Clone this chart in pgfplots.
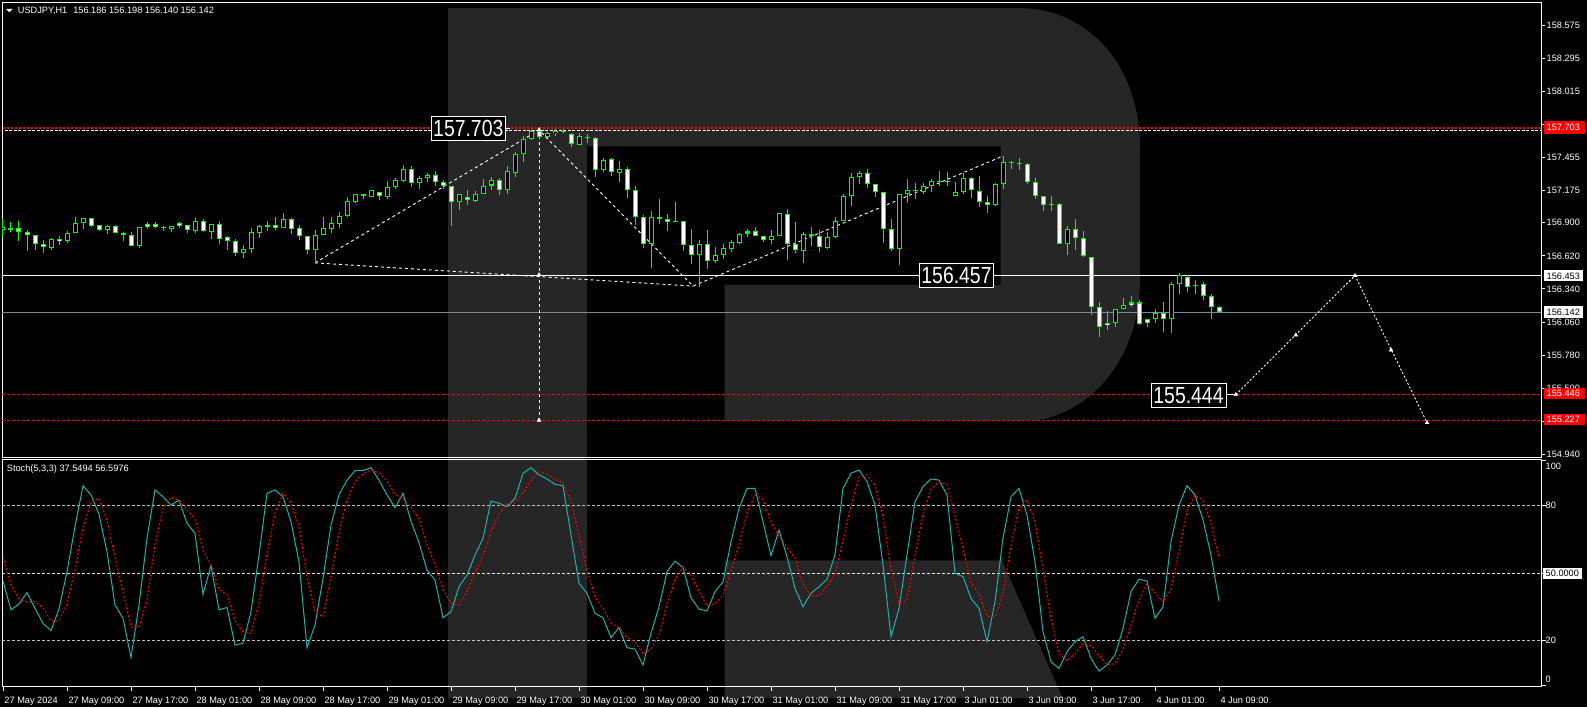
\documentclass[border=0pt]{standalone}
\usepackage{pgfplots}
\pgfplotsset{compat=1.18}
\usepackage{pgfplotstable}
\usepackage{graphicx}
\usepackage{fontspec}
\setmainfont{Liberation Sans}
\definecolor{cg}{RGB}{0,255,0}
\definecolor{kcol}{RGB}{32,178,170}
\definecolor{wm}{RGB}{38,38,38}
\definecolor{bidc}{RGB}{119,136,153}
\definecolor{lvl}{RGB}{192,192,192}
\newcommand\lf{\fontsize{9.2}{10}\selectfont}
\newcommand\bigf{\fontsize{19.4}{20}\selectfont}

\pgfplotstableread{
i o h l c
0 156.842 156.930 156.777 156.862
6 156.684 156.772 156.670 156.763
8 156.749 156.828 156.732 156.811
9 156.811 156.947 156.811 156.896
10 156.896 156.944 156.851 156.938
13 156.842 156.879 156.805 156.870
17 156.707 156.868 156.690 156.862
21 156.851 156.870 156.825 156.870
24 156.834 156.938 156.817 156.913
26 156.825 156.887 156.766 156.887
30 156.641 156.712 156.605 156.675
31 156.675 156.854 156.647 156.820
32 156.817 156.879 156.774 156.870
33 156.868 156.913 156.834 156.879
35 156.859 156.981 156.859 156.930
39 156.667 156.839 156.562 156.794
40 156.800 156.947 156.800 156.854
41 156.851 156.947 156.817 156.896
42 156.893 156.989 156.856 156.955
43 156.955 157.116 156.947 157.082
44 157.077 157.142 157.068 157.142
46 157.122 157.176 157.122 157.176
48 157.116 157.252 157.105 157.201
49 157.201 157.278 157.190 157.263
50 157.254 157.395 157.243 157.361
52 157.234 157.294 157.189 157.277
53 157.277 157.322 157.246 157.305
57 157.079 157.147 157.008 157.141
59 157.087 157.169 157.079 157.149
60 157.149 157.268 157.141 157.217
61 157.217 157.288 157.178 157.260
63 157.181 157.381 157.147 157.336
64 157.327 157.497 157.291 157.483
65 157.480 157.636 157.418 157.613
66 157.610 157.695 157.599 157.675
68 157.624 157.672 157.619 157.658
69 157.658 157.698 157.636 157.678
72 157.562 157.658 157.562 157.633
75 157.350 157.449 157.333 157.432
77 157.325 157.424 157.248 157.361
81 156.725 157.000 156.519 156.954
87 156.629 156.751 156.358 156.717
89 156.581 156.694 156.556 156.624
90 156.624 156.717 156.598 156.686
91 156.677 156.751 156.655 156.734
92 156.731 156.816 156.725 156.810
93 156.810 156.844 156.782 156.827
96 156.751 156.836 156.725 156.793
97 156.793 156.980 156.785 156.980
100 156.663 156.824 156.561 156.802
103 156.689 156.824 156.680 156.782
104 156.782 156.946 156.773 156.918
105 156.920 157.149 156.912 157.132
106 157.132 157.322 157.042 157.285
107 157.285 157.339 157.231 157.319
112 156.680 157.149 156.544 157.149
113 157.149 157.271 157.065 157.178
115 157.166 157.237 157.149 157.209
116 157.209 157.271 157.158 157.254
118 157.246 157.330 157.212 157.254
119 157.124 157.246 157.124 157.166
120 157.164 157.322 157.149 157.279
124 157.048 157.237 157.039 157.226
125 157.226 157.466 157.186 157.415
131 157.048 157.132 157.005 157.056
133 156.725 156.870 156.629 156.844
139 156.055 156.166 156.021 156.166
140 156.166 156.259 156.166 156.208
144 156.089 156.166 156.053 156.140
146 156.081 156.395 155.968 156.378
147 156.378 156.471 156.301 156.454
}\bull

\pgfplotstableread{
i o h l c
1 156.856 156.907 156.820 156.842
2 156.854 156.916 156.746 156.820
3 156.820 156.839 156.664 156.794
4 156.794 156.794 156.670 156.718
5 156.718 156.755 156.647 156.692
7 156.763 156.786 156.715 156.743
11 156.938 156.940 156.868 156.876
12 156.879 156.879 156.831 156.842
14 156.870 156.879 156.811 156.811
15 156.811 156.820 156.749 156.800
16 156.800 156.820 156.707 156.707
18 156.887 156.904 156.851 156.862
19 156.887 156.904 156.854 156.862
20 156.867 156.870 156.834 156.858
22 156.896 156.904 156.859 156.870
23 156.879 156.879 156.811 156.837
25 156.913 156.930 156.820 156.828
27 156.887 156.913 156.723 156.766
28 156.777 156.786 156.673 156.743
29 156.743 156.760 156.616 156.641
34 156.879 156.947 156.842 156.859
36 156.930 156.938 156.808 156.851
37 156.854 156.879 156.757 156.786
38 156.786 156.786 156.639 156.667
45 157.142 157.142 157.099 157.125
47 157.159 157.159 157.094 157.125
51 157.361 157.381 157.206 157.234
54 157.302 157.339 157.214 157.243
55 157.243 157.260 157.189 157.209
56 157.209 157.217 156.872 157.079
58 157.116 157.178 157.051 157.090
62 157.260 157.279 157.135 157.181
67 157.675 157.703 157.619 157.624
70 157.678 157.692 157.658 157.669
71 157.650 157.658 157.545 157.565
73 157.624 157.650 157.579 157.616
74 157.616 157.624 157.291 157.350
76 157.438 157.446 157.296 157.328
78 157.361 157.370 157.113 157.175
79 157.175 157.209 156.881 156.954
80 156.954 156.966 156.691 156.725
82 156.954 157.101 156.889 156.937
83 156.937 156.974 156.833 156.904
84 156.912 157.076 156.904 156.904
85 156.912 156.912 156.663 156.714
86 156.714 156.847 156.553 156.629
88 156.717 156.838 156.513 156.581
94 156.827 156.861 156.793 156.793
95 156.793 156.793 156.740 156.751
98 156.977 157.017 156.587 156.725
99 156.725 156.904 156.641 156.666
101 156.802 156.861 156.706 156.793
102 156.793 156.836 156.655 156.694
108 157.319 157.356 157.200 157.226
109 157.226 157.226 157.116 157.158
110 157.158 157.158 156.731 156.844
111 156.844 156.937 156.663 156.680
114 157.178 157.237 157.099 157.169
117 157.254 157.339 157.212 157.246
121 157.279 157.288 157.107 157.175
122 157.172 157.296 157.036 157.073
123 157.073 157.132 156.980 157.048
126 157.415 157.426 157.356 157.407
127 157.407 157.449 157.347 157.398
128 157.398 157.407 157.226 157.243
129 157.243 157.277 157.099 157.124
130 157.124 157.124 156.997 157.048
132 157.056 157.065 156.725 156.725
134 156.844 156.929 156.672 156.768
135 156.768 156.827 156.612 156.621
136 156.607 156.607 156.118 156.183
137 156.188 156.228 155.934 156.019
138 156.055 156.149 155.996 156.030
141 156.225 156.276 156.191 156.205
142 156.225 156.242 156.036 156.044
143 156.089 156.089 156.019 156.047
145 156.140 156.225 155.976 156.081
148 156.443 156.454 156.310 156.358
149 156.373 156.412 156.301 156.364
150 156.378 156.403 156.242 156.284
151 156.284 156.293 156.081 156.183
152 156.186 156.198 156.140 156.142
}\bear

\pgfplotstableread{
i k d
0 46.4 57.2
1 33.6 44.7
2 36.2 38.7
3 41.3 37.0
4 34.3 37.3
5 27.6 34.4
6 24.4 28.8
7 34.0 28.7
8 50.6 36.3
9 70.6 51.7
10 88.8 70.0
11 84.7 81.4
12 76.1 83.2
13 59.5 73.4
14 35.8 57.1
15 29.9 41.7
16 12.4 26.0
17 35.8 26.0
18 65.4 37.9
19 86.9 62.7
20 83.9 78.7
21 80.2 83.7
22 82.4 82.2
23 72.1 78.2
24 67.6 74.0
25 40.5 60.1
26 53.3 53.8
27 33.6 42.5
28 34.7 40.5
29 18.0 28.8
30 18.7 23.8
31 32.8 23.2
32 58.0 36.5
33 85.4 58.7
34 86.9 76.8
35 83.9 85.4
36 72.8 81.2
37 55.0 70.6
38 16.8 48.2
39 26.9 32.9
40 47.6 30.4
41 71.3 48.6
42 84.7 67.9
43 91.3 82.4
44 95.5 90.5
45 95.5 94.1
46 96.8 95.9
47 91.3 94.5
48 84.7 90.9
49 79.0 85.0
50 85.4 83.0
51 73.0 79.1
52 63.5 74.0
53 51.3 62.6
54 46.9 53.9
55 30.1 42.8
56 32.8 36.6
57 43.9 35.6
58 49.1 41.9
59 58.0 50.3
60 65.4 57.5
61 82.0 68.5
62 81.0 76.1
63 79.5 80.8
64 83.2 81.2
65 94.3 85.7
66 96.8 91.4
67 93.6 94.9
68 91.8 94.1
69 89.4 91.6
70 88.8 90.0
71 66.9 81.7
72 45.4 67.0
73 41.0 51.1
74 32.1 39.5
75 30.1 34.4
76 21.3 27.8
77 25.7 25.7
78 16.8 21.3
79 16.2 19.6
80 9.1 14.0
81 23.2 16.2
82 35.0 22.4
83 50.6 36.3
84 55.3 47.0
85 52.4 52.8
86 39.0 48.9
87 34.0 41.8
88 33.1 35.4
89 41.7 36.3
90 46.1 40.3
91 63.9 50.6
92 78.7 62.9
93 87.6 76.7
94 87.6 84.6
95 72.8 82.7
96 57.7 72.7
97 69.1 66.5
98 57.3 61.4
99 43.2 56.5
100 35.0 45.2
101 41.0 39.7
102 43.9 40.0
103 47.2 44.0
104 58.0 49.7
105 87.6 64.3
106 94.3 80.0
107 95.8 92.6
108 90.6 93.6
109 80.2 88.9
110 53.6 74.8
111 21.7 51.8
112 34.3 36.5
113 58.0 38.0
114 81.7 58.0
115 88.4 76.0
116 91.8 87.3
117 91.3 90.5
118 84.7 89.3
119 49.9 75.3
120 48.4 61.0
121 38.7 45.7
122 34.3 40.5
123 19.5 30.8
124 37.3 30.4
125 65.4 40.7
126 83.9 62.2
127 87.6 79.0
128 75.8 82.4
129 55.0 72.8
130 23.9 51.6
131 10.6 29.8
132 7.6 14.0
133 15.0 11.1
134 19.5 14.0
135 21.7 18.7
136 12.1 17.8
137 6.4 13.4
138 9.1 9.2
139 13.6 9.7
140 25.4 16.0
141 41.7 26.9
142 47.3 38.1
143 46.4 45.1
144 29.9 41.2
145 35.0 37.1
146 63.9 42.9
147 80.2 59.7
148 88.8 77.6
149 84.7 84.6
150 73.6 82.4
151 58.0 72.1
152 37.5 56.6
}\stoch

\begin{document}
\begin{tikzpicture}[x=1pt,y=1pt]
\fill[black] (0,0) rectangle (1587,707);
% watermark
\fill[wm] (448.4,9) rectangle (586.6,698.9);
\fill[wm] (586.6,698.9) -- (1021,698.9) .. controls (1080,698.9) and (1140,650) .. (1140,558) -- (1140,427) .. controls (1140,345) and (1085,285.5) .. (1021,285.5) -- (724.7,285.5) -- (724.7,422) -- (1000.5,422) -- (1000.5,560.5) -- (586.6,560.5) -- cycle;
\fill[wm] (724.7,146.6) -- (1002,146.6) -- (1062.6,9) -- (724.7,9) -- cycle;

\begin{axis}[
  at={(2pt,250pt)}, anchor=south west, scale only axis, width=1539pt, height=455pt,
  xmin=-0.125, xmax=192.25, ymin=154.915, ymax=158.773,
  axis line style={white, line width=0.9pt},
  xtick=\empty,
  ytick={158.575,158.295,158.015,157.735,157.455,157.175,156.900,156.620,156.340,156.060,155.780,155.500,155.220,154.940},
  yticklabels={}, ytick pos=right, tick align=outside, major tick length=4pt,
  tick style={white, line width=0.9pt},
  clip=true,
]
% levels
\addplot[red, line width=2pt, dash pattern=on 2pt off 2pt] coordinates {(-2,157.703) (195,157.703)};
\addplot[white, line width=0.9pt, dash pattern=on 3pt off 1.5pt] coordinates {(-2,157.685) (195,157.685)};
\addplot[white, line width=0.9pt] coordinates {(-2,156.453) (195,156.453)};
\addplot[bidc, line width=0.9pt] coordinates {(-2,156.142) (195,156.142)};
\addplot[red, line width=0.9pt, dash pattern=on 3pt off 2pt] coordinates {(-2,155.446) (195,155.446)};
\addplot[red, line width=0.9pt, dash pattern=on 3pt off 2pt] coordinates {(-2,155.227) (195,155.227)};
% zigzag
\addplot[white, line width=0.9pt, dash pattern=on 3pt off 3pt] coordinates {(39,156.561) (67,157.687) (86.25,156.364) (124.75,157.460)};
\addplot[white, line width=0.9pt, dash pattern=on 3pt off 3pt] coordinates {(39,156.561) (86.25,156.364)};
\addplot[white, line width=0.9pt, dash pattern=on 3pt off 3pt] coordinates {(67,157.687) (67,155.227)};
% projection
\addplot[white, line width=0.9pt, dash pattern=on 2pt off 2pt] coordinates {(154.1,155.444) (169,156.453) (178,155.206)};
\addplot[only marks, mark=triangle*, mark size=2.2pt, white] coordinates {(67,157.690) (67,156.460) (67,155.227) (154.1,155.444) (161.6,155.949) (169,156.453) (173.5,155.822) (178,155.206)};
% candles: wicks
\addplot[draw=none, mark=none, error bars/.cd, y dir=plus, y explicit, error mark=none, error bar style={draw=cg, line width=1pt}] table[x=i, y=l, y error plus expr={\thisrow{h}-\thisrow{l}}] {\bull};
\addplot[draw=none, mark=none, error bars/.cd, y dir=plus, y explicit, error mark=none, error bar style={draw=cg, line width=1pt}] table[x=i, y=l, y error plus expr={\thisrow{h}-\thisrow{l}}] {\bear};
% bodies outline
\addplot[draw=none, mark=none, error bars/.cd, y dir=plus, y explicit, error mark=none, error bar style={draw=cg, line width=5pt}] table[x=i, y=o, y error plus expr={\thisrow{c}-\thisrow{o}}] {\bull};
\addplot[draw=none, mark=none, error bars/.cd, y dir=plus, y explicit, error mark=none, error bar style={draw=cg, line width=5pt}] table[x=i, y=c, y error plus expr={\thisrow{o}-\thisrow{c}}] {\bear};
% bodies fill
\addplot[draw=none, mark=none, error bars/.cd, y dir=plus, y explicit, error mark=none, error bar style={draw=black, line width=3pt}] table[x=i, y expr={\thisrow{o}+0.0085}, y error plus expr={max(0,\thisrow{c}-\thisrow{o}-0.017)}] {\bull};
\addplot[draw=none, mark=none, error bars/.cd, y dir=plus, y explicit, error mark=none, error bar style={draw=white, line width=3pt}] table[x=i, y expr={\thisrow{c}+0.0085}, y error plus expr={max(0,\thisrow{o}-\thisrow{c}-0.017)}] {\bear};
\end{axis}

\begin{axis}[
  at={(2pt,21pt)}, anchor=south west, scale only axis, width=1539pt, height=227pt,
  xmin=-0.125, xmax=192.25, ymin=-0.22, ymax=100.67,
  axis line style={white, line width=0.9pt},
  xtick={0,8,...,152}, xtick pos=left,
  xticklabels={27 May 2024,27 May 09:00,27 May 17:00,28 May 01:00,28 May 09:00,28 May 17:00,29 May 01:00,29 May 09:00,29 May 17:00,30 May 01:00,30 May 09:00,30 May 17:00,31 May 01:00,31 May 09:00,31 May 17:00,3 Jun 01:00,3 Jun 09:00,3 Jun 17:00,4 Jun 01:00,4 Jun 09:00},
  xticklabel style={anchor=base west, inner sep=0pt, yshift=-13.3pt, xshift=1.3pt, text=white, font=\lf},
  ytick={0,20,50,80,100}, ytick pos=right, yticklabels={},
  tick align=outside, major tick length=4.5pt,
  tick style={white, line width=0.9pt},
  clip=true,
]
\addplot[lvl, line width=0.9pt, dash pattern=on 3pt off 2pt] coordinates {(-2,80) (195,80)};
\addplot[white!90!black, line width=0.9pt, dash pattern=on 3pt off 2pt] coordinates {(-2,50) (195,50)};
\addplot[lvl, line width=0.9pt, dash pattern=on 3pt off 2pt] coordinates {(-2,20) (195,20)};
\addplot[kcol, line width=1pt] table[x=i, y=k] {\stoch};
\addplot[red, line width=1pt, dash pattern=on 2pt off 2pt] table[x=i, y=d] {\stoch};
\end{axis}

% title
\fill[white] (6,698) -- (12.7,698) -- (9.35,694.7) -- cycle;
\node[anchor=base west, inner sep=0, text=white, font=\lf] at (17.7,693) {USDJPY,H1\hspace{6pt}156.186 156.198 156.140 156.142};
\node[anchor=base west, inner sep=0, text=white, font=\lf] at (6.7,235.5) {Stoch(5,3,3) 37.5494 56.5976};

% right price labels
\foreach \py/\t in {25.3/158.575, 58.3/158.295, 91.3/158.015, 157.4/157.455, 190.4/157.175, 222.8/156.900, 255.9/156.620, 288.9/156.340, 321.9/156.060, 354.9/155.780, 387.9/155.500, 454.0/154.940}
  \node[anchor=west, inner sep=0, text=white, font=\lf] at (1546.5,707-\py) {\t};
\fill[red] (1544,573) rectangle (1585,585.5);
\node[anchor=west, inner sep=0, text=white, font=\lf] at (1546.5,579.2) {157.703};
\fill[white] (1544,425.5) rectangle (1583,436.7);
\node[anchor=west, inner sep=0, text=black, font=\lf] at (1546.5,431) {156.453};
\fill[white] (1544,389) rectangle (1583,400.5);
\node[anchor=west, inner sep=0, text=black, font=\lf] at (1546.5,394.7) {156.142};
\fill[red] (1544,307.5) rectangle (1585,319.3);
\node[anchor=west, inner sep=0, text=white, font=\lf] at (1546.5,313.5) {155.446};
\fill[red] (1544,281.7) rectangle (1585,293.3);
\node[anchor=west, inner sep=0, text=white, font=\lf] at (1546.5,287.6) {155.227};

% stoch labels
\node[anchor=west, inner sep=0, text=white, font=\lf] at (1545.5,707-466.7) {100};
\node[anchor=west, inner sep=0, text=white, font=\lf] at (1545.5,707-505.7) {80};
\fill[white] (1543,128.5) rectangle (1581.6,139);
\node[anchor=west, inner sep=0, text=black, font=\lf] at (1545.5,707-573.3) {50.0000};
\node[anchor=west, inner sep=0, text=white, font=\lf] at (1545.5,707-640.3) {20};
\node[anchor=west, inner sep=0, text=white, font=\lf] at (1545.5,707-679.7) {0};

% big price labels
\node[draw=white, line width=1pt, fill=black, text=white, inner sep=0, minimum width=74.5pt, minimum height=24.5pt, font=\bigf] at (468.3,578.7) {\scalebox{1}[1.2]{157.703}};
\draw[white, line width=1pt] (505.7,578.5) -- (510,578.5);
\node[draw=white, line width=1pt, fill=black, text=white, inner sep=0, minimum width=74.4pt, minimum height=24pt, font=\bigf] at (956.5,431.7) {\scalebox{1}[1.2]{156.457}};
\draw[white, line width=1pt] (993.7,431) -- (1003.7,431);
\node[draw=white, line width=1pt, fill=black, text=white, inner sep=0, minimum width=75pt, minimum height=24pt, font=\bigf] at (1188.5,311.7) {\scalebox{1}[1.2]{155.444}};
\draw[white, line width=1pt] (1226,312.5) -- (1236,312.5);

\pgfresetboundingbox
\path[use as bounding box] (0,0) rectangle (1587,707);
\end{tikzpicture}
\end{document}
